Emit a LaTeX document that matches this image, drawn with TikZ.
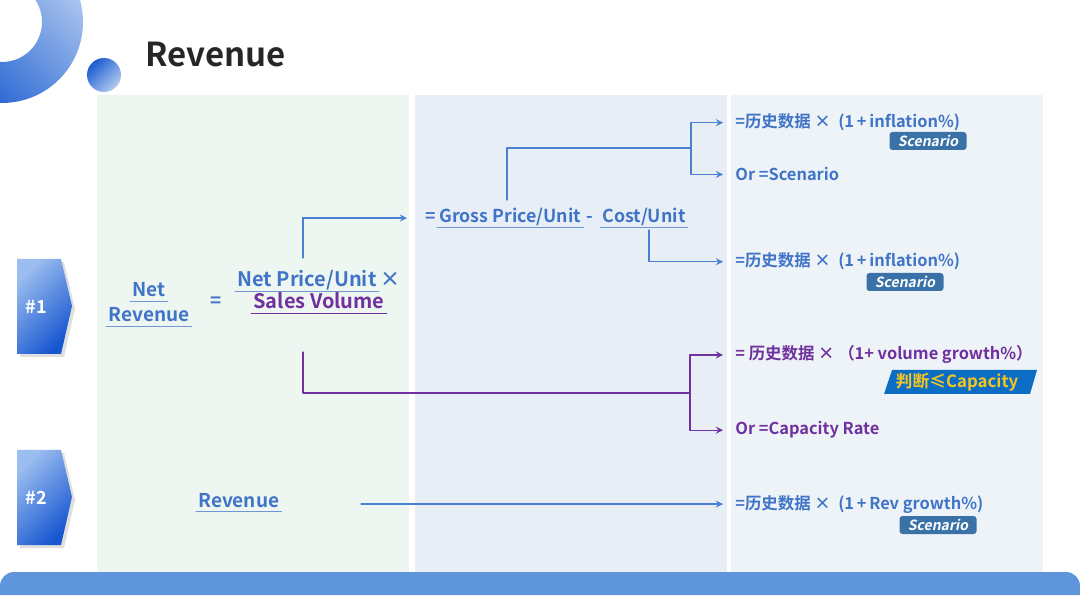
\documentclass[tikz,border=0pt]{standalone}
\usepackage{fontspec}
\setmainfont{Noto Sans CJK SC}[BoldFont={Noto Sans CJK SC Bold}]
\newfontfamily\tagfont{Noto Sans CJK SC Bold}[FakeSlant=0.2]
\usetikzlibrary{shadows}
\definecolor{txtblue}{HTML}{3F74C8}
\definecolor{lineblue}{HTML}{4A80D4}
\definecolor{txtpurple}{HTML}{7030A0}
\definecolor{tagblue}{HTML}{3A72A8}
\definecolor{capblue}{HTML}{0B6EC4}
\definecolor{capyellow}{HTML}{F7C520}
\definecolor{colA}{HTML}{EEF6F2}
\definecolor{colB}{HTML}{E8EEF5}
\definecolor{colC}{HTML}{EDF3F6}
\definecolor{barblue}{HTML}{5F95DA}
\definecolor{chevlight}{HTML}{9BBDF0}
\definecolor{chevdark}{HTML}{1656CF}
\definecolor{ringlight}{HTML}{B3CBF0}
\definecolor{ringdark}{HTML}{1A5BD0}
\definecolor{titlegray}{HTML}{262626}
\begin{document}
\begin{tikzpicture}[x=0.5pt,y=-0.5pt,line cap=round,line join=round,>=stealth,
    bline/.style={draw=lineblue,line width=0.6pt},
    pline/.style={draw=txtpurple,line width=0.6pt},
    ulb/.style={draw=txtblue!75,line width=0.5pt},
    ulp/.style={draw=txtpurple,line width=0.5pt},
    lbl/.style={inner sep=1pt,text=txtblue,font=\fontsize{9.5}{11}\selectfont\bfseries},
    plbl/.style={lbl,text=txtpurple},
    big/.style={font=\fontsize{10}{12}\selectfont\bfseries},
    mid/.style={font=\fontsize{8.9}{11}\selectfont\bfseries},
    formula/.style={inner sep=0pt,anchor=base west,text=txtblue,font=\fontsize{8.2}{10}\selectfont\bfseries},
    pformula/.style={formula,text=txtpurple},
    tagbox/.style={fill=tagblue,rounded corners=1.5pt,minimum width=38.5pt,minimum height=9pt,inner sep=0pt,text=white,font=\fontsize{7}{8}\selectfont\tagfont},
    chev/.style={top color=chevlight,bottom color=chevdark,shading angle=45,
      drop shadow={opacity=0.25,shadow xshift=1.5pt,shadow yshift=-1.5pt}},
    chevtext/.style={text=white,font=\fontsize{9}{10}\selectfont\bfseries}]
\useasboundingbox (0,0) rectangle (1080,608);
\clip (0,0) rectangle (1080,608);
% logo and title
\shade[even odd rule,top color=ringlight,bottom color=ringdark,shading angle=-45]
  (2,22) circle[radius=81] (2,22) circle[radius=40];
\shade[top color=ringdark,bottom color=ringlight,shading angle=45] (104,75) circle[radius=17];
\node[anchor=base west,inner sep=0pt,text=titlegray,font=\fontsize{16.5}{18}\selectfont\bfseries] (title) at (145,67) {Revenue};
% columns and bottom bar
\foreach \xa/\xb/\c in {97/409/colA,415/727/colB,731/1043/colC}
  \fill[\c] (\xa,95) rectangle (\xb,572);
\fill[barblue] (0,595) [rounded corners=7] -- (0,572) -- (1080,572) [sharp corners] -- (1080,595) -- cycle;
% step markers
\foreach \i/\yt in {1/259,2/450}{
  \shade[chev] (17,\yt) -- (61,\yt) -- (72,\yt+47) -- (61,\yt+95) -- (17,\yt+95) -- cycle;
  \node[chevtext] (mark\i) at (36,\yt+48) {\#\i};
}
% left column
\node[lbl,anchor=base] (net) at (149,297) {Net};
\node[lbl,anchor=base] (nrev) at (149,322) {Revenue};
\node[lbl] (eq1) at (216,302) {=};
\node[lbl,big,anchor=base west] (npu) at (235,287) {Net Price/Unit};
\node[lbl,big,anchor=base west] (times) at (378,287) {×};
\node[plbl,big,anchor=base west] (sv) at (251,309) {Sales Volume};
\node[lbl,anchor=base west] (rev2) at (196,507) {Revenue};
% middle column
\node[lbl,mid,anchor=base west] (eq2) at (423,223) {=};
\node[lbl,mid,anchor=base west] (gp) at (437,223) {Gross Price/Unit};
\node[lbl,mid,anchor=base west] (minus) at (584,223) {-};
\node[lbl,mid,anchor=base west] (cu) at (600,223) {Cost/Unit};
\foreach \n in {net,nrev,npu,gp,cu,rev2}
  \draw[ulb] ([yshift=-2.2pt]\n.base west) -- ([yshift=-2.2pt]\n.base east);
\draw[ulp] ([yshift=-2.2pt]sv.base west) -- ([yshift=-2.2pt]sv.base east);
% right column
\node[formula] (h1) at (735,128) {=历史数据~×~~(1\,+\,inflation\%)};
\node[formula] (o1) at (735,181) {Or =Scenario};
\node[formula] (h2) at (735,267) {=历史数据~×~~(1\,+\,inflation\%)};
\node[pformula] (h3) at (735,360) {=~历史数据~×~（1+ volume growth\%）};
\node[pformula] (o3) at (735,435) {Or =Capacity Rate};
\node[formula] (h4) at (735,509) {=历史数据~×~~(1\,+\,Rev growth\%)};
\node[tagbox] (tg1) at (928,141) {Scenario};
\node[tagbox] (tg2) at (905,282) {Scenario};
\node[tagbox] (tg4) at (938,525) {Scenario};
\fill[capblue] (892,370) -- (1037,370) -- (1030,394) -- (884,394) -- cycle;
\node[text=capyellow,font=\fontsize{8.4}{10}\selectfont\bfseries] (tg3) at (957,382) {判断≤Capacity};
% connectors
\coordinate (up1) at (303,258);
\coordinate (dn1) at (303,352);
\coordinate (up2) at (507,200);
\coordinate (dn2) at (649,230);
\coordinate (fork1) at (691,148);
\coordinate (fork2) at (690,393);
\draw[bline,->] (up1) |- ([xshift=-8pt]eq2.west);
\draw[bline] (up2) |- (fork1);
\draw[bline,->] (fork1) |- ([xshift=-6pt]h1.west);
\draw[bline,->] (fork1) |- ([xshift=-6pt]o1.west);
\draw[bline,->] (dn2) |- ([xshift=-6pt]h2.west);
\draw[pline] (dn1) |- (fork2);
\draw[pline,->] (fork2) |- ([xshift=-6pt]h3.west);
\draw[pline,->] (fork2) |- ([xshift=-6pt]o3.west);
\draw[bline,<-] ([xshift=-6pt]h4.west) -- ++(-362,0);
\end{tikzpicture}
\end{document}
